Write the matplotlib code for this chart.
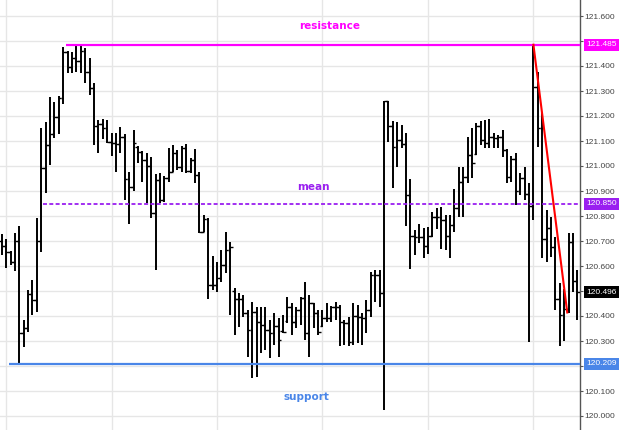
import matplotlib
matplotlib.use("Agg")
import matplotlib.pyplot as plt
import matplotlib.transforms as mtransforms
import numpy as np

highs = [120.728, 120.708, 120.660, 120.732, 120.760, 120.384, 120.504, 120.544, 120.792, 121.152,
         121.176, 121.276, 121.256, 121.280, 121.476, 121.460, 121.456, 121.484, 121.485, 121.472,
         121.432, 121.332, 121.184, 121.188, 121.184, 121.132, 121.132, 121.156, 121.128, 120.976,
         121.144, 121.080, 121.060, 121.052, 121.036, 120.968, 120.972, 120.960, 121.072, 121.084,
         121.064, 121.080, 121.088, 121.032, 121.068, 120.976, 120.804, 120.792, 120.640, 120.616,
         120.664, 120.736, 120.696, 120.512, 120.492, 120.484, 120.424, 120.456, 120.436, 120.436,
         120.436, 120.384, 120.412, 120.392, 120.404, 120.476, 120.452, 120.436, 120.476, 120.536,
         120.484, 120.452, 120.424, 120.424, 120.452, 120.440, 120.456, 120.444, 120.384, 120.396,
         120.452, 120.444, 120.412, 120.464, 120.576, 120.584, 120.584, 121.260, 121.260, 121.180,
         121.176, 121.164, 121.132, 120.948, 120.744, 120.768, 120.752, 120.756, 120.816, 120.832,
         120.836, 120.804, 120.804, 120.908, 120.996, 120.996, 121.116, 121.152, 121.172, 121.180,
         121.184, 121.188, 121.132, 121.124, 121.144, 121.068, 121.040, 121.052, 120.972, 120.996,
         120.932, 121.485, 121.376, 121.212, 120.824, 120.796, 120.716, 120.532, 120.508, 120.732,
         120.732, 120.584]

lows = [120.644, 120.592, 120.604, 120.580, 120.212, 120.276, 120.336, 120.404, 120.416, 120.656,
        120.892, 121.004, 121.112, 121.128, 121.248, 121.372, 121.372, 121.376, 121.372, 121.332,
        121.284, 121.084, 121.052, 121.108, 121.092, 121.040, 120.976, 121.052, 120.864, 120.768,
        120.900, 121.012, 120.936, 120.852, 120.792, 120.584, 120.852, 120.856, 120.936, 120.976,
        120.984, 120.976, 120.972, 120.972, 120.932, 120.732, 120.736, 120.468, 120.504, 120.496,
        120.536, 120.572, 120.404, 120.324, 120.356, 120.396, 120.236, 120.152, 120.156, 120.252,
        120.264, 120.232, 120.284, 120.236, 120.332, 120.372, 120.324, 120.352, 120.364, 120.304,
        120.236, 120.352, 120.324, 120.356, 120.376, 120.376, 120.384, 120.280, 120.284, 120.280,
        120.284, 120.292, 120.284, 120.332, 120.396, 120.456, 120.436, 120.024, 121.096, 120.912,
        120.996, 121.072, 120.760, 120.588, 120.644, 120.692, 120.632, 120.648, 120.716, 120.748,
        120.668, 120.664, 120.632, 120.736, 120.796, 120.796, 120.932, 120.952, 121.044, 121.084,
        121.072, 121.072, 121.072, 121.072, 121.036, 120.932, 120.936, 120.844, 120.884, 120.864,
        120.296, 120.784, 121.076, 120.632, 120.616, 120.636, 120.424, 120.280, 120.300, 120.412,
        120.496, 120.384]

closes = [120.680, 120.656, 120.616, 120.700, 120.332, 120.352, 120.488, 120.464, 120.700, 120.992,
          121.084, 121.128, 121.196, 121.272, 121.456, 121.396, 121.432, 121.420, 121.460, 121.376,
          121.312, 121.160, 121.168, 121.152, 121.096, 121.092, 121.088, 121.116, 120.948, 120.916,
          121.092, 121.056, 121.024, 121.000, 120.812, 120.944, 120.864, 120.952, 120.976, 121.052,
          120.996, 121.072, 120.980, 121.024, 120.964, 120.736, 120.788, 120.524, 120.524, 120.552,
          120.604, 120.664, 120.676, 120.468, 120.468, 120.412, 120.344, 120.416, 120.376, 120.364,
          120.344, 120.332, 120.360, 120.304, 120.336, 120.436, 120.376, 120.424, 120.472, 120.332,
          120.452, 120.412, 120.336, 120.392, 120.392, 120.436, 120.436, 120.376, 120.372, 120.296,
          120.400, 120.396, 120.392, 120.424, 120.564, 120.564, 120.492, 121.260, 121.160, 121.076,
          121.104, 121.088, 120.884, 120.720, 120.716, 120.716, 120.680, 120.720, 120.796, 120.796,
          120.784, 120.720, 120.764, 120.832, 120.936, 120.956, 121.044, 121.012, 121.160, 121.104,
          121.092, 121.116, 121.112, 121.116, 121.064, 120.956, 121.028, 120.900, 120.952, 120.888,
          120.840, 121.316, 121.152, 120.708, 120.752, 120.676, 120.468, 120.404, 120.428, 120.696,
          120.540, 120.496]

opens = [120.700, 120.680, 120.656, 120.616, 120.700, 120.332, 120.352, 120.488, 120.464, 120.700,
         120.992, 121.084, 121.128, 121.196, 121.272, 121.456, 121.396, 121.432, 121.420, 121.460,
         121.376, 121.312, 121.160, 121.168, 121.152, 121.096, 121.092, 121.088, 121.116, 120.948,
         120.916, 121.076, 121.056, 121.024, 121.000, 120.812, 120.944, 120.864, 120.952, 120.976,
         121.052, 120.996, 121.072, 120.980, 121.024, 120.964, 120.736, 120.788, 120.524, 120.524,
         120.552, 120.604, 120.664, 120.500, 120.468, 120.468, 120.412, 120.344, 120.416, 120.376,
         120.364, 120.344, 120.332, 120.360, 120.340, 120.380, 120.436, 120.376, 120.424, 120.472,
         120.332, 120.452, 120.412, 120.360, 120.392, 120.392, 120.436, 120.436, 120.376, 120.372,
         120.296, 120.400, 120.396, 120.392, 120.424, 120.564, 120.564, 120.492, 121.260, 121.160,
         121.076, 121.104, 121.088, 120.884, 120.720, 120.716, 120.716, 120.680, 120.720, 120.796,
         120.796, 120.784, 120.720, 120.764, 120.832, 120.936, 120.956, 121.044, 121.050, 121.160,
         121.104, 121.092, 121.116, 121.112, 121.116, 121.064, 120.956, 121.028, 120.900, 120.952,
         120.888, 120.840, 121.316, 121.152, 120.708, 120.752, 120.676, 120.468, 120.404, 120.428,
         120.696, 120.540]

resistance = 121.485
mean_level = 120.850
support = 120.209
last_price = 120.496
trend_x = [121, 128.7]
trend_y = [121.485, 120.414]
yticks = [round(120.0 + 0.1 * k, 3) for k in range(17)]
# axis labels hidden under the coloured price boxes in the reference
hidden_ticks = [120.2, 120.5]

fig = plt.figure(figsize=(6.25, 4.3), dpi=100)
ax = fig.add_axes([0, 0, 580 / 625, 1])

n = len(highs)
idx = np.arange(n)

ax.set_xlim(-0.39, 131.6)
ax.set_ylim(119.944, 121.664)

# grid
ax.set_xticks([1, 25, 49, 73, 97, 121])
ax.set_yticks(yticks)
ax.grid(True, color="#e6e6e6", lw=1.0, zorder=0)
ax.set_axisbelow(True)

for s in ["left", "top", "bottom"]:
    ax.spines[s].set_visible(False)
ax.spines["right"].set_color("#555555")
ax.spines["right"].set_linewidth(1.0)

ax.tick_params(axis="x", length=0, labelbottom=False)
ax.yaxis.tick_right()
ax.tick_params(axis="y", length=2, width=0.8, pad=1.0, labelsize=6,
               colors="#555555", labelcolor="#444444")
ax.set_yticklabels(["" if any(abs(v - h) < 1e-6 for h in hidden_ticks) else f"{v:.3f}"
                    for v in yticks], family="Liberation Sans")

# OHLC bars
ax.vlines(idx, lows, highs, color="black", lw=1.4, zorder=3)
ax.hlines(closes, idx, idx + 0.6, color="black", lw=1.0, zorder=3)
ax.hlines(opens, idx - 0.6, idx, color="black", lw=1.0, zorder=3)

# level lines
ax.plot([14.6, 131.6], [resistance, resistance], color="#ff00ff", lw=1.6, zorder=4,
        solid_capstyle="butt")
ax.plot([9.5, 131.6], [mean_level, mean_level], color="#9a1ff0", lw=1.3, zorder=4,
        dashes=(2.2, 1.3))
ax.plot([1.7, 131.6], [support, support], color="#4a86e8", lw=1.6, zorder=4,
        solid_capstyle="butt")
ax.plot(trend_x, trend_y, color="#ff0000", lw=1.5, zorder=5)

# level texts
ax.text(74.7, 121.561, "resistance", color="#ff00ff", fontsize=7.5, fontweight="bold",
        ha="center", va="center", family="DejaVu Sans")
ax.text(70.9, 120.917, "mean", color="#9a1ff0", fontsize=7.5, fontweight="bold",
        ha="center", va="center", family="DejaVu Sans")
ax.text(69.4, 120.077, "support", color="#4a86e8", fontsize=7.5, fontweight="bold",
        ha="center", va="center", family="DejaVu Sans")

# price labels on right axis
trans = mtransforms.blended_transform_factory(ax.transAxes, ax.transData)
off = mtransforms.ScaledTranslation(6 / 100, 0, fig.dpi_scale_trans)
for val, col in [(resistance, "#ff00ff"), (mean_level, "#9a1ff0"),
                 (support, "#4a86e8"), (last_price, "#000000")]:
    ax.text(1.0, val, f"{val:.3f}", transform=trans + off, ha="left", va="center",
            fontsize=6, color="white", family="Liberation Sans", clip_on=False, zorder=10,
            bbox=dict(boxstyle="square,pad=0.3", fc=col, ec="none"))

fig.savefig("out.png", dpi=100)
